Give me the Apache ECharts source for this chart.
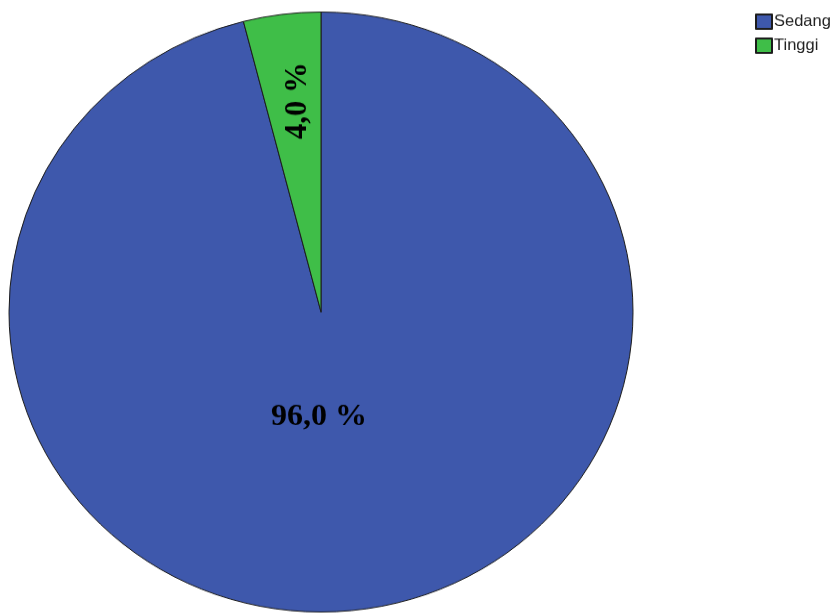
<!DOCTYPE html>
<html>
<head>
<meta charset="utf-8">
<script src="https://cdn.jsdelivr.net/npm/echarts@6/dist/echarts.min.js"></script>
<style>
  html, body { margin: 0; padding: 0; background: #fff; overflow: hidden; }
  #wrap { width: 840px; height: 614px; overflow: hidden; }
  /* the pie is drawn slightly wider than tall */
  #chart { width: 840px; height: 640px; transform: scaleY(0.9615); transform-origin: 0 0; }
</style>
</head>
<body>
<div id="wrap"><div id="chart"></div></div>
<script>
const categories = ['Sedang', 'Tinggi'];
const percents = [96.0, 4.0];
const colors = ['#3e58ac', '#3fbe48'];

const chart = echarts.init(document.getElementById('chart'), null, { renderer: 'canvas' });

const fmt = v => v.toFixed(1).replace('.', ',') + ' %';

// label nudges (the rotated label shifts in its own rotated frame)
const labelShift = [
  { dx: -22, dy: -49 },
  { dx: 62, dy: -3 }
];

chart.setOption({
  backgroundColor: '#ffffff',
  animation: false,
  legend: {
    orient: 'vertical',
    left: 750,
    top: 9,
    itemWidth: 16,
    itemHeight: 15,
    itemGap: 8,
    icon: 'rect',
    textStyle: { fontFamily: 'Liberation Sans, Arial, sans-serif', fontSize: 16.5, color: '#222', padding: [0, 0, 0, -3] },
    data: categories
  },
  series: [{
    type: 'pie',
    center: [321, 324.5],
    radius: [0, 312],
    startAngle: 90,
    clockwise: true,
    avoidLabelOverlap: false,
    itemStyle: { borderColor: '#1c1c1c', borderWidth: 1 },
    emphasis: { disabled: true },
    label: {
      show: true,
      position: 'inside',
      formatter: p => fmt(p.value),
      fontFamily: 'Liberation Serif, Times New Roman, serif',
      fontWeight: 'bold',
      fontSize: 32,
      color: '#000'
    },
    labelLine: { show: false },
    labelLayout: p => labelShift[p.dataIndex],
    data: categories.map((name, i) => ({
      name,
      value: percents[i],
      itemStyle: { color: colors[i] },
      label: i === 1 ? { rotate: 90 } : { rotate: 0 }
    }))
  }]
});
</script>
</body>
</html>
